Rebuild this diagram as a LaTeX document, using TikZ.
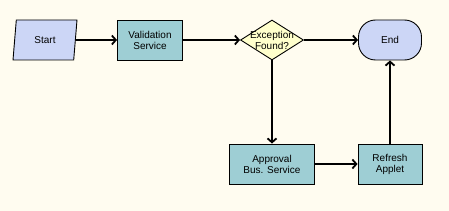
\documentclass[tikz,border=0pt]{standalone}
\usepackage{fontspec}
\setmainfont{Liberation Sans}
\usetikzlibrary{arrows.meta,positioning,shapes.geometric}

\definecolor{bgcream}{RGB}{255,252,240}
\definecolor{stepteal}{RGB}{158,206,212}
\definecolor{termblue}{RGB}{204,214,246}
\definecolor{askyellow}{RGB}{255,255,204}

\begin{document}
\begin{tikzpicture}[
  x=1pt, y=1pt,
  node distance=105pt and 105pt, on grid,
  every node/.style={font=\fontsize{10}{11}\selectfont, align=center, line width=0.9pt},
  stepbox/.style={draw, fill=stepteal, minimum width=65pt, minimum height=40pt, inner sep=1pt},
  startbox/.style={draw, fill=termblue, trapezium, trapezium left angle=70, trapezium right angle=110,
    minimum height=40pt, minimum width=64pt, trapezium stretches body, inner sep=1pt},
  endbox/.style={draw, fill=termblue, rounded corners=17pt, minimum width=63pt, minimum height=40pt},
  askbox/.style={draw, fill=askyellow, diamond, aspect=1.575, minimum width=63pt, minimum height=40pt,
    inner xsep=-8pt, inner ysep=-6pt},
  arrow/.style={-{Straight Barb[length=4pt,width=9pt]}, line width=1.8pt}
]
\useasboundingbox[fill=bgcream] (0,0) rectangle (449,-211);
\node[startbox] (start) at (45,-40) {Start};
\node[stepbox, right=105pt of start] (valid) {Validation\\Service};
\node[askbox, right=122pt of valid] (check) {Exception\\Found?};
\node[endbox, right=118pt of check] (finish) {End};
\node[stepbox, minimum width=85pt, below=124pt of check] (approve) {Approval\\Bus. Service};
\node[stepbox, minimum width=64pt, right=118pt of approve] (refresh) {Refresh\\Applet};
\draw[arrow] (start) -- (valid);
\draw[arrow] (valid) -- (check);
\draw[arrow] (check) -- (finish);
\draw[arrow] (check) -- (approve);
\draw[arrow] (approve) -- (refresh);
\draw[arrow] (refresh) -- (finish);
\end{tikzpicture}
\end{document}
